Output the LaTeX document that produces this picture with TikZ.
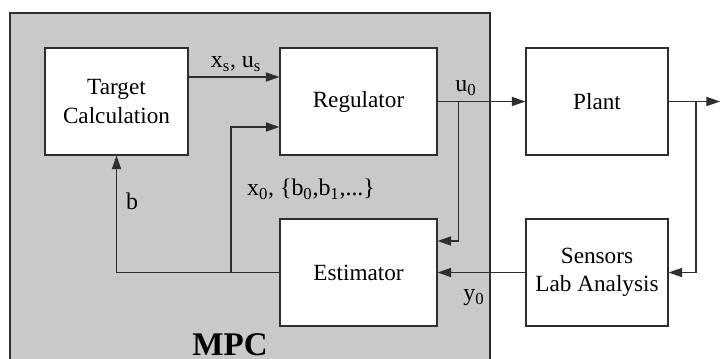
\documentclass[tikz,border=0pt]{standalone}
\usepackage{fontspec}
\setmainfont{Liberation Serif}
\newfontfamily\mpcfont{Liberation Serif}
\usepackage{xcolor}
\definecolor{mpcGray}{HTML}{C8C9CB}
\definecolor{mpcLine}{HTML}{2E2E2E}
\usetikzlibrary{arrows.meta,positioning,calc}
\tikzset{
    block/.style={
        draw=mpcLine,
        fill=white,
        rectangle,
        align=center,
        minimum height=2.675cm,
        minimum width=3.575cm,
        inner sep=0pt,
        line width=0.8pt,
        font=\mpcfont\fontsize{16.5}{20}\selectfont
    },
    arrow/.style={
        -{Triangle[length=3.4mm,width=2.3mm]},
        line width=0.8pt,
        color=mpcLine
    },
    sig/.style={
        font=\mpcfont\fontsize{17}{20}\selectfont,
        inner sep=0pt
    }
}

\begin{document}
\begin{tikzpicture}[x=0.025cm, y=0.025cm]
    \useasboundingbox (0,0) rectangle (720,358);
    % MPC area
    \begin{scope}
        \clip (0,0) rectangle (720,358);
        \filldraw[fill=mpcGray, draw=mpcLine, line width=0.8pt] (10,-10) rectangle (490,345);
    \end{scope}
    \node[font=\mpcfont\bfseries\fontsize{23.5}{26}\selectfont] (mpc) at (230,13) {MPC};

    % Blocks
    \node[block, minimum width=3.575cm] (target) at (116.5,256.5) {Target\\Calculation};
    \node[block, minimum width=3.925cm] (reg) at (358.5,256.5) {Regulator};
    \node[block, minimum width=3.55cm] (plant) at (597,256.5) {Plant};
    \node[block, minimum width=3.925cm] (est) at (358.5,85.5) {Estimator};
    \node[block, minimum width=3.55cm] (sensors) at (597,85.5) {Sensors\\Lab Analysis};

    % Branch points
    \coordinate (usplit) at ($(reg.east)+(21,0)$);
    \coordinate (ysplit) at (696,256.5);
    \coordinate (yout) at (720,256.5);
    \coordinate (bsplit) at (231,85.5);

    % Signals
    \draw[arrow] ($(target.east)+(0,24.5)$) -- ($(reg.west)+(0,24.5)$);
    \draw[arrow] (reg.east) -- (plant.west);
    \draw[arrow] (usplit) |- ($(est.east)+(0,31.5)$);
    \draw[arrow] (plant.east) -- (yout);
    \draw[arrow] (ysplit) |- (sensors.east);
    \draw[arrow] (sensors.west) -- (est.east);
    \draw[arrow] (est.west) -| (target.south);
    \draw[arrow] (bsplit) |- ($(reg.west)+(0,-25.5)$);

    % Labels
    \node[sig] (xsus) at (236,294) {x\textsubscript{s}, u\textsubscript{s}};
    \node[sig] (u0) at (466,270) {u\textsubscript{0}};
    \node[sig] (x0) at (311,169) {x\textsubscript{0}, \{b\textsubscript{0},b\textsubscript{1},...\}};
    \node[sig] (b) at (132,157) {b};
    \node[sig] (y0) at (474,60) {y\textsubscript{0}};
\end{tikzpicture}
\end{document}
